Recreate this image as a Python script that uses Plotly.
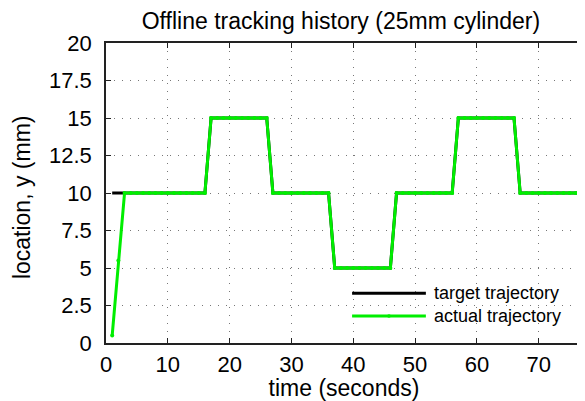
import plotly.graph_objects as go

time_s = [1, 2, 3, 4, 5, 6, 7, 8, 9, 10, 11, 12, 13, 14, 15, 16, 17, 18, 19, 20,
          21, 22, 23, 24, 25, 26, 27, 28, 29, 30, 31, 32, 33, 34, 35, 36, 37, 38, 39, 40,
          41, 42, 43, 44, 45, 46, 47, 48, 49, 50, 51, 52, 53, 54, 55, 56, 57, 58, 59, 60,
          61, 62, 63, 64, 65, 66, 67, 68, 69, 70, 71, 72, 73, 74, 75, 76, 77]

target_y = [10, 10, 10, 10, 10, 10, 10, 10, 10, 10, 10, 10, 10, 10, 10, 10, 15, 15, 15, 15,
            15, 15, 15, 15, 15, 15, 10, 10, 10, 10, 10, 10, 10, 10, 10, 10, 5, 5, 5, 5,
            5, 5, 5, 5, 5, 5, 10, 10, 10, 10, 10, 10, 10, 10, 10, 10, 15, 15, 15, 15,
            15, 15, 15, 15, 15, 15, 10, 10, 10, 10, 10, 10, 10, 10, 10, 10, 10]

actual_y = [0.5, 5.5, 10, 10, 10, 10, 10, 10, 10, 10, 10, 10, 10, 10, 10, 10, 15, 15, 15, 15,
            15, 15, 15, 15, 15, 15, 10, 10, 10, 10, 10, 10, 10, 10, 10, 10, 5, 5, 5, 5,
            5, 5, 5, 5, 5, 5, 10, 10, 10, 10, 10, 10, 10, 10, 10, 10, 15, 15, 15, 15,
            15, 15, 15, 15, 15, 15, 10, 10, 10, 10, 10, 10, 10, 10, 10, 10, 10]

series_names = ["target trajectory", "actual trajectory"]
series_colors = ["black", "#00ee00"]

x_ticks = [0, 10, 20, 30, 40, 50, 60, 70]
y_ticks = [0, 2.5, 5, 7.5, 10, 12.5, 15, 17.5, 20]
y_tick_text = ["0", "2.5", "5", "7.5", "10", "12.5", "15", "17.5", "20"]

FONT = "Liberation Sans, Arial, sans-serif"

fig = go.Figure()
fig.add_trace(go.Scatter(x=time_s, y=target_y, mode="lines", name=series_names[0],
                         showlegend=False,
                         line=dict(color=series_colors[0], width=3)))
fig.add_trace(go.Scatter(x=time_s, y=actual_y, mode="lines+markers", name=series_names[1],
                         showlegend=False,
                         line=dict(color=series_colors[1], width=3),
                         marker=dict(color=series_colors[1], size=4)))

axis_common = dict(
    showline=True, linecolor="#222", linewidth=1.5, mirror="ticks",
    ticks="inside", ticklen=5, tickwidth=1, tickcolor="#222",
    showgrid=True, gridcolor="#777", gridwidth=1, griddash="1px,7px",
    zeroline=False, automargin=False,
    tickfont=dict(size=22, color="black", family=FONT),
)

fig.update_xaxes(range=[0, 77], tickvals=x_ticks, ticklabelstandoff=1,
                 title=dict(text="time (seconds)", font=dict(size=23, color="black", family=FONT), standoff=0),
                 **axis_common)
fig.update_yaxes(range=[0, 20], tickvals=y_ticks, ticktext=y_tick_text, ticklabelstandoff=8,
                 **axis_common)

# y-axis title placed precisely
fig.add_annotation(xref="paper", yref="paper", x=-0.176, y=0.487, xanchor="center", yanchor="middle",
                   text="location, y (mm)", textangle=-90, showarrow=False,
                   font=dict(size=23, color="black", family=FONT))

# Legend drawn MATLAB-style (long sample lines, no box)
leg_rows_y = [0.166, 0.09]
leg_x0, leg_x1, leg_tx = 0.517, 0.672, 0.684
for i, (nm, col) in enumerate(zip(series_names, series_colors)):
    fig.add_shape(type="line", xref="paper", yref="paper",
                  x0=leg_x0, x1=leg_x1, y0=leg_rows_y[i], y1=leg_rows_y[i],
                  line=dict(color=col, width=3))
    fig.add_annotation(xref="paper", yref="paper", x=leg_tx, y=leg_rows_y[i],
                       xanchor="left", yanchor="middle", text=nm, showarrow=False,
                       font=dict(size=18, color="black", family=FONT))
fig.add_shape(type="circle", xref="paper", yref="paper",
              x0=(leg_x0 + leg_x1) / 2 - 0.004, x1=(leg_x0 + leg_x1) / 2 + 0.004,
              y0=leg_rows_y[1] - 0.006, y1=leg_rows_y[1] + 0.006,
              fillcolor=series_colors[1], line=dict(width=0))

# page body has an 8px margin: size the figure so the axes land where the reference has them
fig.update_layout(
    width=577, height=393,
    margin=dict(l=98, r=3, t=35, b=58),
    plot_bgcolor="white", paper_bgcolor="white",
    font=dict(family=FONT, color="black"),
    title=dict(text="Offline tracking history (25mm cylinder)", x=0.577, xanchor="center",
               y=0.967, yanchor="middle", font=dict(size=23, color="black", family=FONT)),
    showlegend=False,
)

fig.write_html("out.html")
